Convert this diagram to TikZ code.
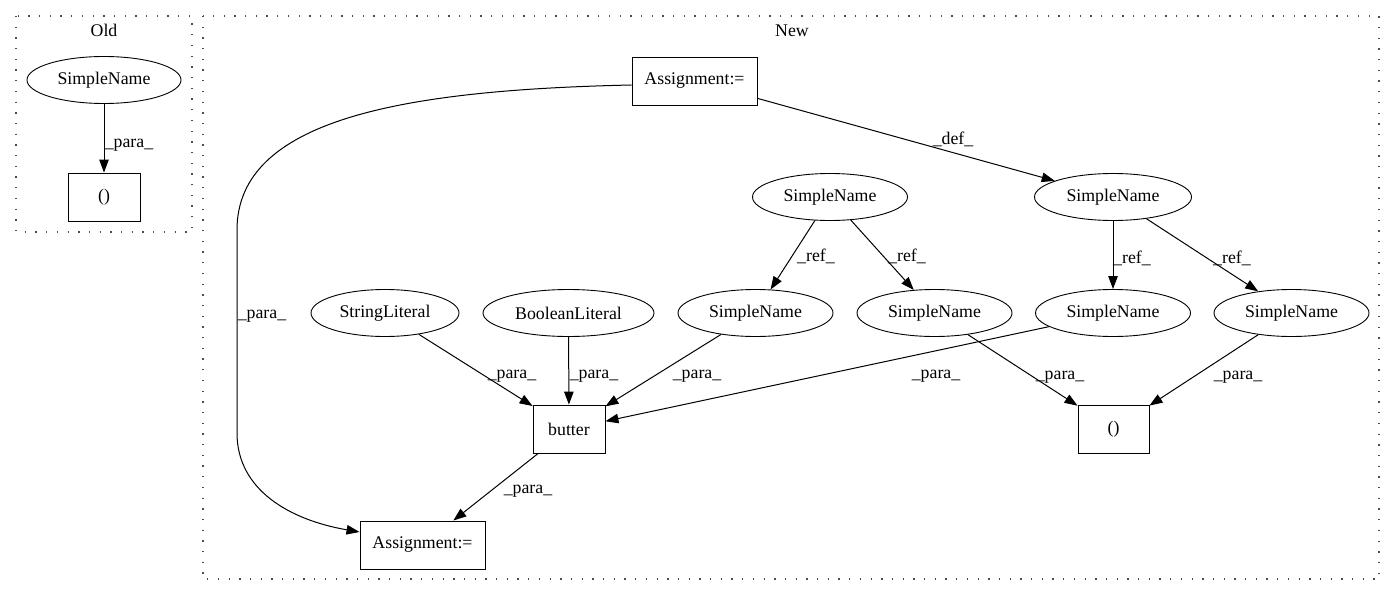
\documentclass[tikz,border=0pt]{standalone}
\usepackage{fontspec}
\setmainfont{Liberation Serif}
\usetikzlibrary{shapes.geometric,arrows.meta}
\begin{document}
\begin{tikzpicture}[x=1pt,y=-1pt,
  every node/.style={font=\fontsize{17.8}{21}\selectfont},
  ell/.style={draw,ellipse,line width=0.9pt,inner sep=0pt,minimum width=155pt,minimum height=47pt},
  box/.style={draw,rectangle,line width=0.9pt,inner sep=0pt,minimum height=48pt},
  edge/.style={line width=1pt,-{Triangle[length=13pt,width=9.5pt]}},
  lab/.style={anchor=base,inner sep=0pt},
  cluster/.style={draw=black!70,line width=1.1pt,dash pattern=on 1.3pt off 9.4pt}]
\useasboundingbox (0,0) rectangle (1396,596);
\fill[white] (0,0) rectangle (1396,596);
% clusters
\draw[cluster] (16,16) rectangle (192,232);
\draw[cluster] (203,16) rectangle (1379,579);
\node[lab] (cOld) at (104,37) {Old};
\node[lab] (cNew) at (792,37) {New};
% Old
\node[ell,minimum width=154pt] (o1) at (104,80) {SimpleName};
\node[box,minimum width=72pt] (o2) at (104,197) {()};
% New
\node[box,minimum width=125pt] (A1) at (694.5,81) {Assignment:=};
\node[ell,minimum width=157pt] (SNd) at (1113,197) {SimpleName};
\node[ell] (SNm) at (830,197) {SimpleName};
\node[ell,minimum width=148pt] (SL) at (385,313) {StringLiteral};
\node[ell,minimum width=171pt] (BL) at (568.5,313) {BooleanLiteral};
\node[ell] (S1) at (755.5,313) {SimpleName};
\node[ell] (S2) at (934.5,313) {SimpleName};
\node[ell] (S3) at (1113,313) {SimpleName};
\node[ell] (S4) at (1291.5,313) {SimpleName};
\node[box,minimum width=72pt] (bt) at (569,429) {butter};
\node[box,minimum width=71pt] (pr) at (1113.5,429) {()};
\node[box,minimum width=125pt] (A2) at (422.5,545) {Assignment:=};
% edges
\draw[edge] (o1) -- (o2);
\draw[edge] (A1) -- (SNd);
\draw[edge] ([yshift=-4pt]A1.west) .. controls (400,90) and (237,120) .. (237,230)
   -- (237,433) .. controls (237,490) and (290,520) .. ([yshift=13pt]A2.west);
\draw[edge] (SNm) -- (S1);
\draw[edge] (SNm) -- (S2);
\draw[edge] (SNd) -- (S3);
\draw[edge] (SNd) -- (S4);
\draw[edge] (SL) -- (bt);
\draw[edge] (BL) -- (bt);
\draw[edge] (S1) -- (bt);
\draw[edge] (S3) -- (bt);
\draw[edge] (S2) -- (pr);
\draw[edge] (S4) -- (pr);
\draw[edge] (bt) -- (A2);
% edge labels
\node[lab] (l0) at (129,148) {\_para\_};
\node[lab] (l1) at (953,145) {\_def\_};
\node[lab] (l2) at (262,318) {\_para\_};
\node[lab] (l3) at (816,261) {\_ref\_};
\node[lab] (l4) at (907,261) {\_ref\_};
\node[lab] (l5) at (1132,263) {\_ref\_};
\node[lab] (l6) at (1232,263) {\_ref\_};
\node[lab] (l7) at (512,378) {\_para\_};
\node[lab] (l8) at (594,378) {\_para\_};
\node[lab] (l9) at (697,378) {\_para\_};
\node[lab] (l10) at (936,378) {\_para\_};
\node[lab] (l11) at (1060,379) {\_para\_};
\node[lab] (l12) at (1238,379) {\_para\_};
\node[lab] (l13) at (528,493) {\_para\_};
\end{tikzpicture}
\end{document}
